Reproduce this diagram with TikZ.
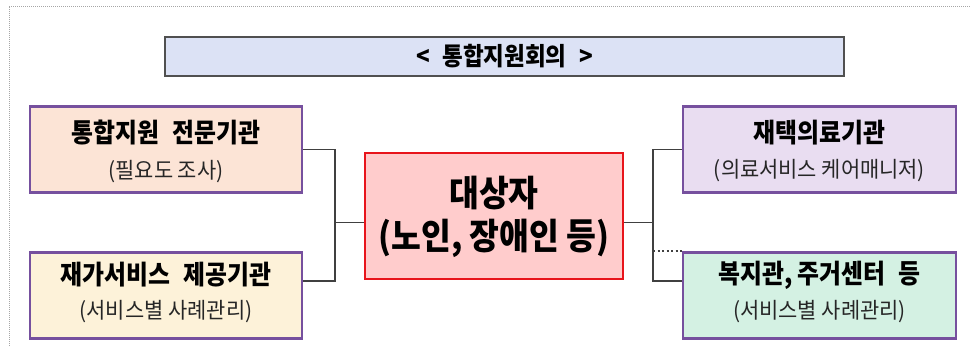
\documentclass[tikz,border=0pt]{standalone}
\usepackage{fontspec}
\newfontfamily\kr{Noto Sans CJK KR}[FakeStretch=0.95]
\newfontfamily\krc{Noto Sans CJK KR}[FakeStretch=0.9]
\definecolor{ttlfill}{HTML}{DCE2F5}
\definecolor{ttldraw}{HTML}{505050}
\definecolor{peach}{HTML}{FCE4D6}
\definecolor{cream}{HTML}{FDF2D9}
\definecolor{lav}{HTML}{E9DDF1}
\definecolor{mint}{HTML}{D4F1E3}
\definecolor{purp}{HTML}{76509E}
\definecolor{redb}{HTML}{E8141B}
\definecolor{pinkf}{HTML}{FFCCCC}
\definecolor{lineg}{HTML}{404040}
\begin{document}
\begin{tikzpicture}[x=1pt,y=-1pt,
  orgbox/.style={draw=purp, line width=2.8pt, minimum width=272pt, minimum height=86pt, inner sep=0pt},
  ttl/.style={font=\krc\bfseries\fontsize{26.5}{26.5}\selectfont, text=black, inner sep=0pt},
  sub/.style={font=\kr\fontsize{22}{22}\selectfont, text=black!85, inner sep=0pt},
  conn/.style={draw=lineg, line width=1.2pt}]
\useasboundingbox (0,0) rectangle (971,346);
\fill[white] (0,0) rectangle (971,346);
% outer frame
\draw[gray!70, line width=1pt, densely dotted] (9,360) -- (9,6) -- (985,6);
% title
\node[draw=ttldraw, fill=ttlfill, line width=1.5pt, minimum width=679pt, minimum height=39pt, inner sep=0pt] (t) at (504.5,56.5) {};
\node[font=\krc\bfseries\fontsize{25}{25}\selectfont, inner sep=0pt] (tt) at (t.center) {<\enspace 통합지원회의\enspace >};
% left boxes
\node[orgbox, fill=peach] (b1) at (166,149.5) {};
\node[ttl] (b1t) at (166,133) {통합지원\enspace 전문기관};
\node[sub] (b1s) at (166,172) {(필요도 조사)};
\node[orgbox, fill=cream] (b2) at (166,295.5) {};
\node[ttl] (b2t) at (166,275) {재가서비스\enspace 제공기관};
\node[sub] (b2s) at (166,312) {(서비스별 사례관리)};
% right boxes
\node[orgbox, fill=lav, minimum width=273pt] (r1) at (819.5,149.5) {};
\node[ttl] (r1t) at (819.5,133) {재택의료기관};
\node[sub] (r1s) at (819.5,171) {(의료서비스 케어매니저)};
\node[orgbox, fill=mint, minimum width=273pt] (r2) at (819.5,295.5) {};
\node[ttl] (r2t) at (819.5,275) {복지관, 주거센터\enspace 등};
\node[sub] (r2s) at (819.5,312) {(서비스별 사례관리)};
% center
\node[draw=redb, fill=pinkf, line width=2.8pt, minimum width=258pt, minimum height=126pt, inner sep=0pt] (c) at (494,216) {};
\node[font=\krc\bfseries\fontsize{36}{36}\selectfont, inner sep=0pt] (ct) at (494,193) {대상자};
\node[font=\krc\bfseries\fontsize{36}{36}\selectfont, inner sep=0pt] (cs) at (494,238) {(노인, 장애인 등)};
% connectors
\coordinate (jl) at (335,222.5);
\coordinate (jr) at (653,222.5);
\draw[conn] (b1.east) -| (jl) |- ([yshift=14.5pt]b2.east);
\draw[conn] (jl) -- (c.west |- jl);
\draw[conn] (r1.west) -| (jr) |- ([yshift=14.5pt]r2.west);
\draw[conn] (c.east |- jr) -- (jr);
\draw[draw=lineg, line width=1.6pt, dash pattern=on 2pt off 2.5pt] (jr |- 0,251) -- (r2.west |- 0,251);
\end{tikzpicture}
\end{document}
